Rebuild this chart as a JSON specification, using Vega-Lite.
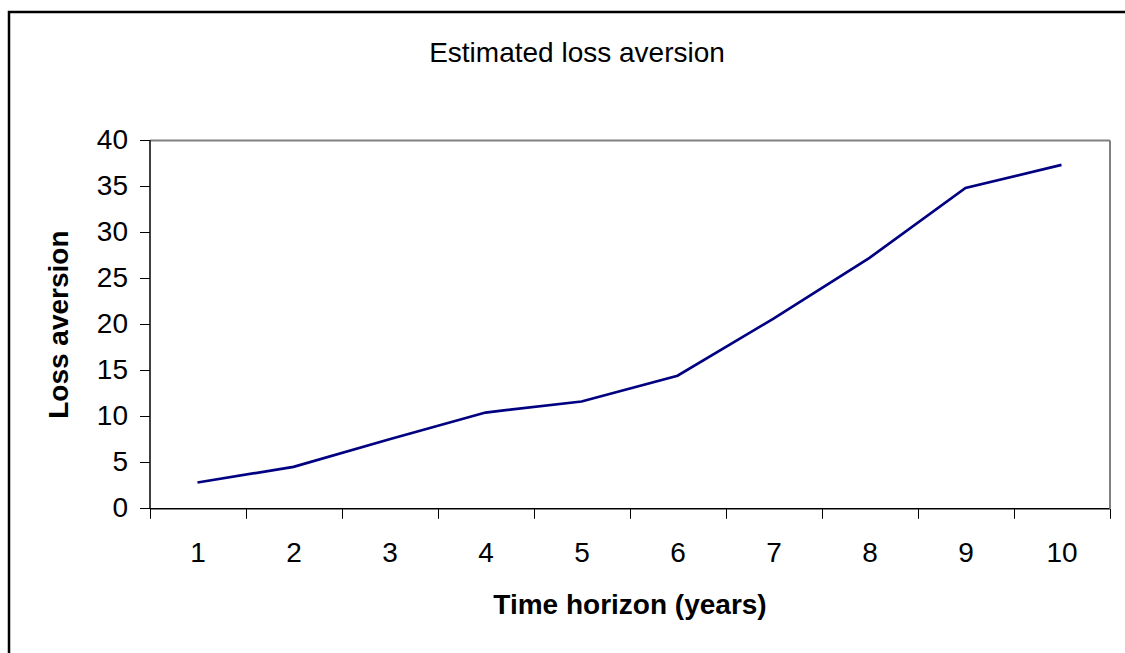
{
  "$schema": "https://vega.github.io/schema/vega-lite/v6.json",
  "autosize": "none",
  "padding": {"left": 9, "top": 12, "right": 0, "bottom": 0},
  "width": 1118,
  "height": 643,
  "background": "white",
  "title": {
    "text": "Estimated loss aversion",
    "font": "Liberation Sans",
    "fontSize": 28,
    "fontWeight": "normal",
    "color": "black",
    "anchor": "middle",
    "frame": "group",
    "baseline": "alphabetic",
    "offset": -78,
    "dx": 9
  },
  "data": {
    "values": [
      {"horizon": "1", "loss": 2.8},
      {"horizon": "2", "loss": 4.5},
      {"horizon": "3", "loss": 7.5},
      {"horizon": "4", "loss": 10.4},
      {"horizon": "5", "loss": 11.6},
      {"horizon": "6", "loss": 14.4},
      {"horizon": "7", "loss": 20.6},
      {"horizon": "8", "loss": 27.2},
      {"horizon": "9", "loss": 34.8},
      {"horizon": "10", "loss": 37.3}
    ]
  },
  "layer": [
    {
      "mark": {"type": "line", "color": "#000080", "strokeWidth": 2.7},
      "encoding": {
        "x": {
          "field": "horizon",
          "type": "ordinal",
          "sort": null,
          "scale": {"type": "band", "range": [140.5, 1100.5], "paddingInner": 0, "paddingOuter": 0},
          "axis": {
            "orient": "bottom",
            "offset": -146.7,
            "domainColor": "black",
            "domainWidth": 1.5,
            "tickColor": "black",
            "tickSize": 10,
            "tickWidth": 1,
            "tickBand": "extent",
            "labelAngle": 0,
            "labelFont": "Liberation Sans",
            "labelFontSize": 28,
            "labelColor": "black",
            "labelPadding": 21,
            "title": "Time horizon (years)",
            "titleFont": "Liberation Sans",
            "titleFontSize": 28,
            "titleFontWeight": "bold",
            "titleColor": "black",
            "titlePadding": 24,
            "grid": false
          }
        },
        "y": {
          "field": "loss",
          "type": "quantitative",
          "scale": {"domain": [0, 40], "range": [496.3, 128], "nice": false, "zero": true},
          "axis": {
            "orient": "left",
            "offset": -140.5,
            "values": [0, 5, 10, 15, 20, 25, 30, 35, 40],
            "domainColor": "black",
            "domainWidth": 1.5,
            "tickColor": "black",
            "tickSize": 10,
            "tickWidth": 1,
            "labelFont": "Liberation Sans",
            "labelFontSize": 28,
            "labelColor": "black",
            "labelPadding": 12,
            "title": "Loss aversion",
            "titleFont": "Liberation Sans",
            "titleFontSize": 28,
            "titleFontWeight": "bold",
            "titleColor": "black",
            "titlePadding": 23,
            "grid": false
          }
        }
      }
    },
    {
      "mark": {"type": "line", "color": "#000080", "strokeWidth": 2.5, "strokeOpacity": 0},
      "encoding": {
        "x": {
          "field": "horizon",
          "type": "ordinal",
          "sort": null,
          "scale": {"type": "band", "range": [140.5, 1100.5], "paddingInner": 0, "paddingOuter": 0},
          "axis": {
            "orient": "top",
            "offset": -128,
            "domainColor": "#808080",
            "domainWidth": 2,
            "ticks": false,
            "labels": false,
            "title": null,
            "grid": false
          }
        },
        "y": {
          "field": "loss",
          "type": "quantitative",
          "scale": {"domain": [0, 40], "range": [496.3, 128], "nice": false, "zero": true},
          "axis": {
            "orient": "right",
            "offset": -17.5,
            "domainColor": "#808080",
            "domainWidth": 2,
            "ticks": false,
            "labels": false,
            "title": null,
            "grid": false
          }
        }
      }
    }
  ],
  "resolve": {
    "scale": {"x": "independent", "y": "independent"},
    "axis": {"x": "independent", "y": "independent"}
  },
  "config": {
    "view": {"stroke": "black", "strokeWidth": 2.5, "fill": "white"}
  }
}
